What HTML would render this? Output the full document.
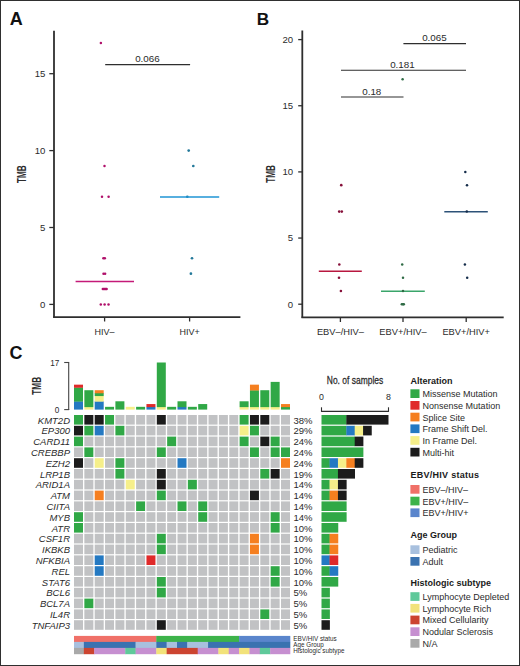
<!DOCTYPE html>
<html><head><meta charset="utf-8"><style>
html,body{margin:0;padding:0;background:#fff;}
#f{position:relative;width:520px;height:666px;overflow:hidden;background:#fff;}
svg{position:absolute;left:0;top:0;font-family:"Liberation Sans", sans-serif;}
#bd{position:absolute;left:0;top:0;width:518px;height:664px;border:1px solid #2f2f2f;}
</style></head><body><div id="f">
<svg width="520" height="666" viewBox="0 0 520 666">
<text x="9.80" y="25.00" font-size="18" text-anchor="start" font-weight="bold" font-style="normal" fill="#111">A</text>
<line x1="54.00" y1="30.80" x2="54.00" y2="317.60" stroke="#2e2e2e" stroke-width="1.8"/>
<line x1="53.10" y1="317.20" x2="240.40" y2="317.20" stroke="#2e2e2e" stroke-width="1.8"/>
<line x1="49.30" y1="304.40" x2="54.00" y2="304.40" stroke="#2e2e2e" stroke-width="1.3"/>
<text x="45.30" y="307.80" font-size="9.6" text-anchor="end" font-weight="normal" font-style="normal" fill="#2b2b2b">0</text>
<line x1="49.30" y1="227.50" x2="54.00" y2="227.50" stroke="#2e2e2e" stroke-width="1.3"/>
<text x="45.30" y="230.90" font-size="9.6" text-anchor="end" font-weight="normal" font-style="normal" fill="#2b2b2b">5</text>
<line x1="49.30" y1="150.60" x2="54.00" y2="150.60" stroke="#2e2e2e" stroke-width="1.3"/>
<text x="45.30" y="154.00" font-size="9.6" text-anchor="end" font-weight="normal" font-style="normal" fill="#2b2b2b">10</text>
<line x1="49.30" y1="73.70" x2="54.00" y2="73.70" stroke="#2e2e2e" stroke-width="1.3"/>
<text x="45.30" y="77.10" font-size="9.6" text-anchor="end" font-weight="normal" font-style="normal" fill="#2b2b2b">15</text>
<line x1="104.60" y1="317.20" x2="104.60" y2="321.50" stroke="#2e2e2e" stroke-width="1.3"/>
<text x="104.60" y="334.80" font-size="9" text-anchor="middle" font-weight="normal" font-style="normal" fill="#2b2b2b">HIV–</text>
<line x1="189.60" y1="317.20" x2="189.60" y2="321.50" stroke="#2e2e2e" stroke-width="1.3"/>
<text x="189.60" y="334.80" font-size="9" text-anchor="middle" font-weight="normal" font-style="normal" fill="#2b2b2b">HIV+</text>
<text transform="translate(26,174.2) rotate(-90)" font-size="12.4" font-weight="bold" text-anchor="middle" fill="#2b2b2b" textLength="17.6" lengthAdjust="spacingAndGlyphs">TMB</text>
<line x1="105.20" y1="64.60" x2="190.10" y2="64.60" stroke="#2e2e2e" stroke-width="1.2"/>
<text x="147.40" y="61.80" font-size="9.8" text-anchor="middle" font-weight="normal" font-style="normal" fill="#2b2b2b">0.066</text>
<circle cx="100.90" cy="42.94" r="1.25" fill="#b0106a"/>
<circle cx="104.50" cy="165.98" r="1.25" fill="#b0106a"/>
<circle cx="102.00" cy="196.74" r="1.25" fill="#b0106a"/>
<circle cx="108.60" cy="196.74" r="1.25" fill="#b0106a"/>
<circle cx="103.40" cy="258.26" r="1.25" fill="#b0106a"/>
<circle cx="104.80" cy="258.26" r="1.25" fill="#b0106a"/>
<circle cx="103.50" cy="273.64" r="1.25" fill="#b0106a"/>
<circle cx="105.10" cy="273.64" r="1.25" fill="#b0106a"/>
<circle cx="102.80" cy="289.02" r="1.25" fill="#b0106a"/>
<circle cx="103.80" cy="289.02" r="1.25" fill="#b0106a"/>
<circle cx="104.80" cy="289.02" r="1.25" fill="#b0106a"/>
<circle cx="105.80" cy="289.02" r="1.25" fill="#b0106a"/>
<circle cx="106.60" cy="289.02" r="1.25" fill="#b0106a"/>
<circle cx="100.80" cy="304.40" r="1.25" fill="#b0106a"/>
<circle cx="104.60" cy="304.40" r="1.25" fill="#b0106a"/>
<circle cx="108.50" cy="304.40" r="1.25" fill="#b0106a"/>
<line x1="75.60" y1="281.50" x2="134.00" y2="281.50" stroke="#c41a78" stroke-width="1.4"/>
<circle cx="188.70" cy="150.60" r="1.35" fill="#23799a"/>
<circle cx="193.30" cy="165.98" r="1.35" fill="#23799a"/>
<circle cx="187.30" cy="196.74" r="1.35" fill="#23799a"/>
<circle cx="192.00" cy="258.26" r="1.35" fill="#23799a"/>
<circle cx="190.90" cy="273.64" r="1.35" fill="#23799a"/>
<line x1="160.00" y1="197.00" x2="219.20" y2="197.00" stroke="#1f95d5" stroke-width="1.4"/>
<text x="256.80" y="24.50" font-size="17.2" text-anchor="start" font-weight="bold" font-style="normal" fill="#111">B</text>
<line x1="302.30" y1="30.60" x2="302.30" y2="317.70" stroke="#2e2e2e" stroke-width="1.8"/>
<line x1="301.40" y1="317.30" x2="503.70" y2="317.30" stroke="#2e2e2e" stroke-width="1.8"/>
<line x1="298.20" y1="304.20" x2="302.30" y2="304.20" stroke="#2e2e2e" stroke-width="1.3"/>
<text x="293.20" y="307.60" font-size="9.6" text-anchor="end" font-weight="normal" font-style="normal" fill="#2b2b2b">0</text>
<line x1="298.20" y1="238.05" x2="302.30" y2="238.05" stroke="#2e2e2e" stroke-width="1.3"/>
<text x="293.20" y="241.45" font-size="9.6" text-anchor="end" font-weight="normal" font-style="normal" fill="#2b2b2b">5</text>
<line x1="298.20" y1="171.90" x2="302.30" y2="171.90" stroke="#2e2e2e" stroke-width="1.3"/>
<text x="293.20" y="175.30" font-size="9.6" text-anchor="end" font-weight="normal" font-style="normal" fill="#2b2b2b">10</text>
<line x1="298.20" y1="105.75" x2="302.30" y2="105.75" stroke="#2e2e2e" stroke-width="1.3"/>
<text x="293.20" y="109.15" font-size="9.6" text-anchor="end" font-weight="normal" font-style="normal" fill="#2b2b2b">15</text>
<line x1="298.20" y1="39.60" x2="302.30" y2="39.60" stroke="#2e2e2e" stroke-width="1.3"/>
<text x="293.20" y="43.00" font-size="9.6" text-anchor="end" font-weight="normal" font-style="normal" fill="#2b2b2b">20</text>
<line x1="340.40" y1="317.30" x2="340.40" y2="322.00" stroke="#2e2e2e" stroke-width="1.3"/>
<text x="340.40" y="335.20" font-size="9.3" text-anchor="middle" font-weight="normal" font-style="normal" fill="#2b2b2b">EBV–/HIV–</text>
<line x1="403.00" y1="317.30" x2="403.00" y2="322.00" stroke="#2e2e2e" stroke-width="1.3"/>
<text x="403.00" y="335.20" font-size="9.3" text-anchor="middle" font-weight="normal" font-style="normal" fill="#2b2b2b">EBV+/HIV–</text>
<line x1="466.20" y1="317.30" x2="466.20" y2="322.00" stroke="#2e2e2e" stroke-width="1.3"/>
<text x="466.20" y="335.20" font-size="9.3" text-anchor="middle" font-weight="normal" font-style="normal" fill="#2b2b2b">EBV+/HIV+</text>
<text transform="translate(275,174) rotate(-90)" font-size="12.4" font-weight="bold" text-anchor="middle" fill="#2b2b2b" textLength="17.6" lengthAdjust="spacingAndGlyphs">TMB</text>
<line x1="341.00" y1="97.00" x2="403.50" y2="97.00" stroke="#2e2e2e" stroke-width="1.1"/>
<text x="371.80" y="94.70" font-size="9.8" text-anchor="middle" font-weight="normal" font-style="normal" fill="#2b2b2b">0.18</text>
<line x1="341.00" y1="70.20" x2="466.00" y2="70.20" stroke="#2e2e2e" stroke-width="1.1"/>
<text x="402.40" y="67.80" font-size="9.8" text-anchor="middle" font-weight="normal" font-style="normal" fill="#2b2b2b">0.181</text>
<line x1="403.40" y1="43.60" x2="466.00" y2="43.60" stroke="#2e2e2e" stroke-width="1.1"/>
<text x="434.40" y="41.00" font-size="9.8" text-anchor="middle" font-weight="normal" font-style="normal" fill="#2b2b2b">0.065</text>
<line x1="318.80" y1="271.30" x2="361.80" y2="271.30" stroke="#b8173f" stroke-width="1.4"/>
<circle cx="341.25" cy="185.13" r="1.3" fill="#86103a"/>
<circle cx="339.20" cy="211.59" r="1.3" fill="#86103a"/>
<circle cx="341.80" cy="211.59" r="1.3" fill="#86103a"/>
<circle cx="339.30" cy="264.51" r="1.3" fill="#86103a"/>
<circle cx="339.00" cy="277.74" r="1.3" fill="#86103a"/>
<circle cx="340.90" cy="290.97" r="1.3" fill="#86103a"/>
<line x1="381.00" y1="291.20" x2="424.80" y2="291.20" stroke="#3aa56a" stroke-width="1.4"/>
<circle cx="402.60" cy="79.29" r="1.25" fill="#2f6b45"/>
<circle cx="402.20" cy="264.51" r="1.25" fill="#2f6b45"/>
<circle cx="403.00" cy="277.74" r="1.25" fill="#2f6b45"/>
<circle cx="403.00" cy="290.97" r="1.25" fill="#2f6b45"/>
<circle cx="401.80" cy="304.20" r="1.25" fill="#2f6b45"/>
<circle cx="403.00" cy="304.20" r="1.25" fill="#2f6b45"/>
<circle cx="403.80" cy="304.20" r="1.25" fill="#2f6b45"/>
<line x1="444.30" y1="211.70" x2="487.80" y2="211.70" stroke="#2d5278" stroke-width="1.4"/>
<circle cx="465.30" cy="171.90" r="1.25" fill="#142c4a"/>
<circle cx="467.00" cy="185.13" r="1.25" fill="#142c4a"/>
<circle cx="466.80" cy="211.59" r="1.25" fill="#142c4a"/>
<circle cx="464.90" cy="264.51" r="1.25" fill="#142c4a"/>
<circle cx="467.20" cy="277.74" r="1.25" fill="#142c4a"/>
<text x="9.60" y="358.50" font-size="18" text-anchor="start" font-weight="bold" font-style="normal" fill="#111">C</text>
<line x1="68.70" y1="362.50" x2="68.70" y2="410.10" stroke="#444" stroke-width="1.1"/>
<line x1="64.20" y1="362.50" x2="69.20" y2="362.50" stroke="#444" stroke-width="1.1"/>
<line x1="64.20" y1="409.60" x2="69.20" y2="409.60" stroke="#444" stroke-width="1.1"/>
<text x="59.40" y="365.90" font-size="8.2" text-anchor="end" font-weight="normal" font-style="normal" fill="#2b2b2b">17</text>
<text x="59.40" y="412.50" font-size="8.2" text-anchor="end" font-weight="normal" font-style="normal" fill="#2b2b2b">0</text>
<text transform="translate(41,385.8) rotate(-90)" font-size="12.6" font-weight="bold" text-anchor="middle" fill="#2b2b2b" textLength="17.8" lengthAdjust="spacingAndGlyphs">TMB</text>
<rect x="74.00" y="401.29" width="9.00" height="8.31" fill="#2479c2"/>
<rect x="74.00" y="387.44" width="9.00" height="14.15" fill="#30a846"/>
<rect x="74.00" y="384.66" width="9.00" height="3.07" fill="#e02a2a"/>
<rect x="84.35" y="406.83" width="9.00" height="2.77" fill="#f6ef8a"/>
<rect x="84.35" y="390.21" width="9.00" height="16.92" fill="#30a846"/>
<rect x="94.70" y="401.29" width="9.00" height="8.31" fill="#2479c2"/>
<rect x="94.70" y="395.75" width="9.00" height="5.84" fill="#f6ef8a"/>
<rect x="94.70" y="392.98" width="9.00" height="3.07" fill="#30a846"/>
<rect x="94.70" y="390.21" width="9.00" height="3.07" fill="#f57f20"/>
<rect x="105.05" y="406.83" width="9.00" height="2.77" fill="#30a846"/>
<rect x="115.40" y="401.29" width="9.00" height="8.31" fill="#30a846"/>
<rect x="125.75" y="406.83" width="9.00" height="2.77" fill="#f6ef8a"/>
<rect x="136.10" y="406.83" width="9.00" height="2.77" fill="#30a846"/>
<rect x="146.45" y="406.83" width="9.00" height="2.77" fill="#2479c2"/>
<rect x="146.45" y="404.06" width="9.00" height="3.07" fill="#e02a2a"/>
<rect x="156.80" y="406.83" width="9.00" height="2.77" fill="#f6ef8a"/>
<rect x="156.80" y="362.50" width="9.00" height="44.63" fill="#30a846"/>
<rect x="167.15" y="406.83" width="9.00" height="2.77" fill="#30a846"/>
<rect x="177.50" y="406.83" width="9.00" height="2.77" fill="#2479c2"/>
<rect x="177.50" y="401.29" width="9.00" height="5.84" fill="#30a846"/>
<rect x="187.85" y="406.83" width="9.00" height="2.77" fill="#30a846"/>
<rect x="198.20" y="404.06" width="9.00" height="5.54" fill="#30a846"/>
<rect x="239.60" y="406.83" width="9.00" height="2.77" fill="#f6ef8a"/>
<rect x="239.60" y="401.29" width="9.00" height="5.84" fill="#30a846"/>
<rect x="249.95" y="406.83" width="9.00" height="2.77" fill="#f6ef8a"/>
<rect x="249.95" y="390.21" width="9.00" height="16.92" fill="#30a846"/>
<rect x="249.95" y="384.66" width="9.00" height="5.84" fill="#f57f20"/>
<rect x="260.30" y="406.83" width="9.00" height="2.77" fill="#f6ef8a"/>
<rect x="260.30" y="390.21" width="9.00" height="16.92" fill="#30a846"/>
<rect x="270.65" y="406.83" width="9.00" height="2.77" fill="#f6ef8a"/>
<rect x="270.65" y="381.89" width="9.00" height="25.24" fill="#30a846"/>
<rect x="281.00" y="406.83" width="9.00" height="2.77" fill="#30a846"/>
<rect x="281.00" y="404.06" width="9.00" height="3.07" fill="#f57f20"/>
<rect x="74.00" y="415.00" width="9.00" height="9.60" fill="#30a846"/>
<rect x="84.35" y="415.00" width="9.00" height="9.60" fill="#1c1c1c"/>
<rect x="94.70" y="415.00" width="9.00" height="9.60" fill="#1c1c1c"/>
<rect x="105.05" y="415.00" width="9.00" height="9.60" fill="#30a846"/>
<rect x="115.40" y="415.00" width="9.00" height="9.60" fill="#c1c2c4"/>
<rect x="125.75" y="415.00" width="9.00" height="9.60" fill="#c1c2c4"/>
<rect x="136.10" y="415.00" width="9.00" height="9.60" fill="#c1c2c4"/>
<rect x="146.45" y="415.00" width="9.00" height="9.60" fill="#c1c2c4"/>
<rect x="156.80" y="415.00" width="9.00" height="9.60" fill="#1c1c1c"/>
<rect x="167.15" y="415.00" width="9.00" height="9.60" fill="#c1c2c4"/>
<rect x="177.50" y="415.00" width="9.00" height="9.60" fill="#c1c2c4"/>
<rect x="187.85" y="415.00" width="9.00" height="9.60" fill="#c1c2c4"/>
<rect x="198.20" y="415.00" width="9.00" height="9.60" fill="#c1c2c4"/>
<rect x="208.55" y="415.00" width="9.00" height="9.60" fill="#c1c2c4"/>
<rect x="218.90" y="415.00" width="9.00" height="9.60" fill="#c1c2c4"/>
<rect x="229.25" y="415.00" width="9.00" height="9.60" fill="#c1c2c4"/>
<rect x="239.60" y="415.00" width="9.00" height="9.60" fill="#30a846"/>
<rect x="249.95" y="415.00" width="9.00" height="9.60" fill="#1c1c1c"/>
<rect x="260.30" y="415.00" width="9.00" height="9.60" fill="#1c1c1c"/>
<rect x="270.65" y="415.00" width="9.00" height="9.60" fill="#c1c2c4"/>
<rect x="281.00" y="415.00" width="9.00" height="9.60" fill="#c1c2c4"/>
<text x="70.00" y="423.60" font-size="9.5" text-anchor="end" font-weight="normal" font-style="italic" fill="#2b2b2b">KMT2D</text>
<text x="293.40" y="423.60" font-size="9.5" text-anchor="start" font-weight="normal" font-style="normal" fill="#2b2b2b">38%</text>
<rect x="321.50" y="415.00" width="25.12" height="9.60" fill="#30a846"/>
<rect x="346.32" y="415.00" width="42.17" height="9.60" fill="#1c1c1c"/>
<rect x="74.00" y="425.80" width="9.00" height="9.60" fill="#1c1c1c"/>
<rect x="84.35" y="425.80" width="9.00" height="9.60" fill="#30a846"/>
<rect x="94.70" y="425.80" width="9.00" height="9.60" fill="#2479c2"/>
<rect x="105.05" y="425.80" width="9.00" height="9.60" fill="#c1c2c4"/>
<rect x="115.40" y="425.80" width="9.00" height="9.60" fill="#30a846"/>
<rect x="125.75" y="425.80" width="9.00" height="9.60" fill="#c1c2c4"/>
<rect x="136.10" y="425.80" width="9.00" height="9.60" fill="#c1c2c4"/>
<rect x="146.45" y="425.80" width="9.00" height="9.60" fill="#c1c2c4"/>
<rect x="156.80" y="425.80" width="9.00" height="9.60" fill="#c1c2c4"/>
<rect x="167.15" y="425.80" width="9.00" height="9.60" fill="#c1c2c4"/>
<rect x="177.50" y="425.80" width="9.00" height="9.60" fill="#c1c2c4"/>
<rect x="187.85" y="425.80" width="9.00" height="9.60" fill="#c1c2c4"/>
<rect x="198.20" y="425.80" width="9.00" height="9.60" fill="#c1c2c4"/>
<rect x="208.55" y="425.80" width="9.00" height="9.60" fill="#c1c2c4"/>
<rect x="218.90" y="425.80" width="9.00" height="9.60" fill="#c1c2c4"/>
<rect x="229.25" y="425.80" width="9.00" height="9.60" fill="#c1c2c4"/>
<rect x="239.60" y="425.80" width="9.00" height="9.60" fill="#f6ef8a"/>
<rect x="249.95" y="425.80" width="9.00" height="9.60" fill="#30a846"/>
<rect x="260.30" y="425.80" width="9.00" height="9.60" fill="#c1c2c4"/>
<rect x="270.65" y="425.80" width="9.00" height="9.60" fill="#c1c2c4"/>
<rect x="281.00" y="425.80" width="9.00" height="9.60" fill="#c1c2c4"/>
<text x="70.00" y="434.40" font-size="9.5" text-anchor="end" font-weight="normal" font-style="italic" fill="#2b2b2b">EP300</text>
<text x="293.40" y="434.40" font-size="9.5" text-anchor="start" font-weight="normal" font-style="normal" fill="#2b2b2b">29%</text>
<rect x="321.50" y="425.80" width="25.12" height="9.60" fill="#30a846"/>
<rect x="346.32" y="425.80" width="8.68" height="9.60" fill="#2479c2"/>
<rect x="354.70" y="425.80" width="8.68" height="9.60" fill="#f6ef8a"/>
<rect x="363.07" y="425.80" width="8.68" height="9.60" fill="#1c1c1c"/>
<rect x="74.00" y="436.60" width="9.00" height="9.60" fill="#30a846"/>
<rect x="84.35" y="436.60" width="9.00" height="9.60" fill="#c1c2c4"/>
<rect x="94.70" y="436.60" width="9.00" height="9.60" fill="#c1c2c4"/>
<rect x="105.05" y="436.60" width="9.00" height="9.60" fill="#c1c2c4"/>
<rect x="115.40" y="436.60" width="9.00" height="9.60" fill="#c1c2c4"/>
<rect x="125.75" y="436.60" width="9.00" height="9.60" fill="#c1c2c4"/>
<rect x="136.10" y="436.60" width="9.00" height="9.60" fill="#c1c2c4"/>
<rect x="146.45" y="436.60" width="9.00" height="9.60" fill="#c1c2c4"/>
<rect x="156.80" y="436.60" width="9.00" height="9.60" fill="#c1c2c4"/>
<rect x="167.15" y="436.60" width="9.00" height="9.60" fill="#30a846"/>
<rect x="177.50" y="436.60" width="9.00" height="9.60" fill="#c1c2c4"/>
<rect x="187.85" y="436.60" width="9.00" height="9.60" fill="#c1c2c4"/>
<rect x="198.20" y="436.60" width="9.00" height="9.60" fill="#c1c2c4"/>
<rect x="208.55" y="436.60" width="9.00" height="9.60" fill="#c1c2c4"/>
<rect x="218.90" y="436.60" width="9.00" height="9.60" fill="#c1c2c4"/>
<rect x="229.25" y="436.60" width="9.00" height="9.60" fill="#c1c2c4"/>
<rect x="239.60" y="436.60" width="9.00" height="9.60" fill="#30a846"/>
<rect x="249.95" y="436.60" width="9.00" height="9.60" fill="#c1c2c4"/>
<rect x="260.30" y="436.60" width="9.00" height="9.60" fill="#1c1c1c"/>
<rect x="270.65" y="436.60" width="9.00" height="9.60" fill="#30a846"/>
<rect x="281.00" y="436.60" width="9.00" height="9.60" fill="#c1c2c4"/>
<text x="70.00" y="445.20" font-size="9.5" text-anchor="end" font-weight="normal" font-style="italic" fill="#2b2b2b">CARD11</text>
<text x="293.40" y="445.20" font-size="9.5" text-anchor="start" font-weight="normal" font-style="normal" fill="#2b2b2b">24%</text>
<rect x="321.50" y="436.60" width="33.50" height="9.60" fill="#30a846"/>
<rect x="354.70" y="436.60" width="8.68" height="9.60" fill="#1c1c1c"/>
<rect x="74.00" y="447.40" width="9.00" height="9.60" fill="#c1c2c4"/>
<rect x="84.35" y="447.40" width="9.00" height="9.60" fill="#30a846"/>
<rect x="94.70" y="447.40" width="9.00" height="9.60" fill="#c1c2c4"/>
<rect x="105.05" y="447.40" width="9.00" height="9.60" fill="#c1c2c4"/>
<rect x="115.40" y="447.40" width="9.00" height="9.60" fill="#c1c2c4"/>
<rect x="125.75" y="447.40" width="9.00" height="9.60" fill="#c1c2c4"/>
<rect x="136.10" y="447.40" width="9.00" height="9.60" fill="#c1c2c4"/>
<rect x="146.45" y="447.40" width="9.00" height="9.60" fill="#c1c2c4"/>
<rect x="156.80" y="447.40" width="9.00" height="9.60" fill="#30a846"/>
<rect x="167.15" y="447.40" width="9.00" height="9.60" fill="#c1c2c4"/>
<rect x="177.50" y="447.40" width="9.00" height="9.60" fill="#c1c2c4"/>
<rect x="187.85" y="447.40" width="9.00" height="9.60" fill="#c1c2c4"/>
<rect x="198.20" y="447.40" width="9.00" height="9.60" fill="#c1c2c4"/>
<rect x="208.55" y="447.40" width="9.00" height="9.60" fill="#c1c2c4"/>
<rect x="218.90" y="447.40" width="9.00" height="9.60" fill="#c1c2c4"/>
<rect x="229.25" y="447.40" width="9.00" height="9.60" fill="#c1c2c4"/>
<rect x="239.60" y="447.40" width="9.00" height="9.60" fill="#c1c2c4"/>
<rect x="249.95" y="447.40" width="9.00" height="9.60" fill="#30a846"/>
<rect x="260.30" y="447.40" width="9.00" height="9.60" fill="#c1c2c4"/>
<rect x="270.65" y="447.40" width="9.00" height="9.60" fill="#30a846"/>
<rect x="281.00" y="447.40" width="9.00" height="9.60" fill="#30a846"/>
<text x="70.00" y="456.00" font-size="9.5" text-anchor="end" font-weight="normal" font-style="italic" fill="#2b2b2b">CREBBP</text>
<text x="293.40" y="456.00" font-size="9.5" text-anchor="start" font-weight="normal" font-style="normal" fill="#2b2b2b">24%</text>
<rect x="321.50" y="447.40" width="41.88" height="9.60" fill="#30a846"/>
<rect x="74.00" y="458.20" width="9.00" height="9.60" fill="#1c1c1c"/>
<rect x="84.35" y="458.20" width="9.00" height="9.60" fill="#c1c2c4"/>
<rect x="94.70" y="458.20" width="9.00" height="9.60" fill="#f6ef8a"/>
<rect x="105.05" y="458.20" width="9.00" height="9.60" fill="#c1c2c4"/>
<rect x="115.40" y="458.20" width="9.00" height="9.60" fill="#30a846"/>
<rect x="125.75" y="458.20" width="9.00" height="9.60" fill="#c1c2c4"/>
<rect x="136.10" y="458.20" width="9.00" height="9.60" fill="#c1c2c4"/>
<rect x="146.45" y="458.20" width="9.00" height="9.60" fill="#c1c2c4"/>
<rect x="156.80" y="458.20" width="9.00" height="9.60" fill="#c1c2c4"/>
<rect x="167.15" y="458.20" width="9.00" height="9.60" fill="#c1c2c4"/>
<rect x="177.50" y="458.20" width="9.00" height="9.60" fill="#2479c2"/>
<rect x="187.85" y="458.20" width="9.00" height="9.60" fill="#c1c2c4"/>
<rect x="198.20" y="458.20" width="9.00" height="9.60" fill="#c1c2c4"/>
<rect x="208.55" y="458.20" width="9.00" height="9.60" fill="#c1c2c4"/>
<rect x="218.90" y="458.20" width="9.00" height="9.60" fill="#c1c2c4"/>
<rect x="229.25" y="458.20" width="9.00" height="9.60" fill="#c1c2c4"/>
<rect x="239.60" y="458.20" width="9.00" height="9.60" fill="#c1c2c4"/>
<rect x="249.95" y="458.20" width="9.00" height="9.60" fill="#c1c2c4"/>
<rect x="260.30" y="458.20" width="9.00" height="9.60" fill="#c1c2c4"/>
<rect x="270.65" y="458.20" width="9.00" height="9.60" fill="#c1c2c4"/>
<rect x="281.00" y="458.20" width="9.00" height="9.60" fill="#f57f20"/>
<text x="70.00" y="466.80" font-size="9.5" text-anchor="end" font-weight="normal" font-style="italic" fill="#2b2b2b">EZH2</text>
<text x="293.40" y="466.80" font-size="9.5" text-anchor="start" font-weight="normal" font-style="normal" fill="#2b2b2b">24%</text>
<rect x="321.50" y="458.20" width="8.38" height="9.60" fill="#30a846"/>
<rect x="329.57" y="458.20" width="8.68" height="9.60" fill="#2479c2"/>
<rect x="337.95" y="458.20" width="8.68" height="9.60" fill="#f6ef8a"/>
<rect x="346.32" y="458.20" width="8.68" height="9.60" fill="#f57f20"/>
<rect x="354.70" y="458.20" width="8.68" height="9.60" fill="#1c1c1c"/>
<rect x="74.00" y="469.00" width="9.00" height="9.60" fill="#c1c2c4"/>
<rect x="84.35" y="469.00" width="9.00" height="9.60" fill="#c1c2c4"/>
<rect x="94.70" y="469.00" width="9.00" height="9.60" fill="#c1c2c4"/>
<rect x="105.05" y="469.00" width="9.00" height="9.60" fill="#c1c2c4"/>
<rect x="115.40" y="469.00" width="9.00" height="9.60" fill="#30a846"/>
<rect x="125.75" y="469.00" width="9.00" height="9.60" fill="#c1c2c4"/>
<rect x="136.10" y="469.00" width="9.00" height="9.60" fill="#c1c2c4"/>
<rect x="146.45" y="469.00" width="9.00" height="9.60" fill="#c1c2c4"/>
<rect x="156.80" y="469.00" width="9.00" height="9.60" fill="#1c1c1c"/>
<rect x="167.15" y="469.00" width="9.00" height="9.60" fill="#c1c2c4"/>
<rect x="177.50" y="469.00" width="9.00" height="9.60" fill="#c1c2c4"/>
<rect x="187.85" y="469.00" width="9.00" height="9.60" fill="#c1c2c4"/>
<rect x="198.20" y="469.00" width="9.00" height="9.60" fill="#c1c2c4"/>
<rect x="208.55" y="469.00" width="9.00" height="9.60" fill="#c1c2c4"/>
<rect x="218.90" y="469.00" width="9.00" height="9.60" fill="#c1c2c4"/>
<rect x="229.25" y="469.00" width="9.00" height="9.60" fill="#c1c2c4"/>
<rect x="239.60" y="469.00" width="9.00" height="9.60" fill="#c1c2c4"/>
<rect x="249.95" y="469.00" width="9.00" height="9.60" fill="#c1c2c4"/>
<rect x="260.30" y="469.00" width="9.00" height="9.60" fill="#30a846"/>
<rect x="270.65" y="469.00" width="9.00" height="9.60" fill="#1c1c1c"/>
<rect x="281.00" y="469.00" width="9.00" height="9.60" fill="#c1c2c4"/>
<text x="70.00" y="477.60" font-size="9.5" text-anchor="end" font-weight="normal" font-style="italic" fill="#2b2b2b">LRP1B</text>
<text x="293.40" y="477.60" font-size="9.5" text-anchor="start" font-weight="normal" font-style="normal" fill="#2b2b2b">19%</text>
<rect x="321.50" y="469.00" width="16.75" height="9.60" fill="#30a846"/>
<rect x="337.95" y="469.00" width="17.05" height="9.60" fill="#1c1c1c"/>
<rect x="74.00" y="479.80" width="9.00" height="9.60" fill="#c1c2c4"/>
<rect x="84.35" y="479.80" width="9.00" height="9.60" fill="#c1c2c4"/>
<rect x="94.70" y="479.80" width="9.00" height="9.60" fill="#c1c2c4"/>
<rect x="105.05" y="479.80" width="9.00" height="9.60" fill="#c1c2c4"/>
<rect x="115.40" y="479.80" width="9.00" height="9.60" fill="#c1c2c4"/>
<rect x="125.75" y="479.80" width="9.00" height="9.60" fill="#f6ef8a"/>
<rect x="136.10" y="479.80" width="9.00" height="9.60" fill="#c1c2c4"/>
<rect x="146.45" y="479.80" width="9.00" height="9.60" fill="#c1c2c4"/>
<rect x="156.80" y="479.80" width="9.00" height="9.60" fill="#1c1c1c"/>
<rect x="167.15" y="479.80" width="9.00" height="9.60" fill="#c1c2c4"/>
<rect x="177.50" y="479.80" width="9.00" height="9.60" fill="#c1c2c4"/>
<rect x="187.85" y="479.80" width="9.00" height="9.60" fill="#30a846"/>
<rect x="198.20" y="479.80" width="9.00" height="9.60" fill="#c1c2c4"/>
<rect x="208.55" y="479.80" width="9.00" height="9.60" fill="#c1c2c4"/>
<rect x="218.90" y="479.80" width="9.00" height="9.60" fill="#c1c2c4"/>
<rect x="229.25" y="479.80" width="9.00" height="9.60" fill="#c1c2c4"/>
<rect x="239.60" y="479.80" width="9.00" height="9.60" fill="#c1c2c4"/>
<rect x="249.95" y="479.80" width="9.00" height="9.60" fill="#c1c2c4"/>
<rect x="260.30" y="479.80" width="9.00" height="9.60" fill="#c1c2c4"/>
<rect x="270.65" y="479.80" width="9.00" height="9.60" fill="#c1c2c4"/>
<rect x="281.00" y="479.80" width="9.00" height="9.60" fill="#c1c2c4"/>
<text x="70.00" y="488.40" font-size="9.5" text-anchor="end" font-weight="normal" font-style="italic" fill="#2b2b2b">ARID1A</text>
<text x="293.40" y="488.40" font-size="9.5" text-anchor="start" font-weight="normal" font-style="normal" fill="#2b2b2b">14%</text>
<rect x="321.50" y="479.80" width="8.38" height="9.60" fill="#30a846"/>
<rect x="329.57" y="479.80" width="8.68" height="9.60" fill="#f6ef8a"/>
<rect x="337.95" y="479.80" width="8.68" height="9.60" fill="#1c1c1c"/>
<rect x="74.00" y="490.60" width="9.00" height="9.60" fill="#c1c2c4"/>
<rect x="84.35" y="490.60" width="9.00" height="9.60" fill="#c1c2c4"/>
<rect x="94.70" y="490.60" width="9.00" height="9.60" fill="#f57f20"/>
<rect x="105.05" y="490.60" width="9.00" height="9.60" fill="#c1c2c4"/>
<rect x="115.40" y="490.60" width="9.00" height="9.60" fill="#c1c2c4"/>
<rect x="125.75" y="490.60" width="9.00" height="9.60" fill="#c1c2c4"/>
<rect x="136.10" y="490.60" width="9.00" height="9.60" fill="#c1c2c4"/>
<rect x="146.45" y="490.60" width="9.00" height="9.60" fill="#c1c2c4"/>
<rect x="156.80" y="490.60" width="9.00" height="9.60" fill="#30a846"/>
<rect x="167.15" y="490.60" width="9.00" height="9.60" fill="#c1c2c4"/>
<rect x="177.50" y="490.60" width="9.00" height="9.60" fill="#c1c2c4"/>
<rect x="187.85" y="490.60" width="9.00" height="9.60" fill="#c1c2c4"/>
<rect x="198.20" y="490.60" width="9.00" height="9.60" fill="#c1c2c4"/>
<rect x="208.55" y="490.60" width="9.00" height="9.60" fill="#c1c2c4"/>
<rect x="218.90" y="490.60" width="9.00" height="9.60" fill="#c1c2c4"/>
<rect x="229.25" y="490.60" width="9.00" height="9.60" fill="#c1c2c4"/>
<rect x="239.60" y="490.60" width="9.00" height="9.60" fill="#c1c2c4"/>
<rect x="249.95" y="490.60" width="9.00" height="9.60" fill="#1c1c1c"/>
<rect x="260.30" y="490.60" width="9.00" height="9.60" fill="#c1c2c4"/>
<rect x="270.65" y="490.60" width="9.00" height="9.60" fill="#c1c2c4"/>
<rect x="281.00" y="490.60" width="9.00" height="9.60" fill="#c1c2c4"/>
<text x="70.00" y="499.20" font-size="9.5" text-anchor="end" font-weight="normal" font-style="italic" fill="#2b2b2b">ATM</text>
<text x="293.40" y="499.20" font-size="9.5" text-anchor="start" font-weight="normal" font-style="normal" fill="#2b2b2b">14%</text>
<rect x="321.50" y="490.60" width="8.38" height="9.60" fill="#30a846"/>
<rect x="329.57" y="490.60" width="8.68" height="9.60" fill="#f57f20"/>
<rect x="337.95" y="490.60" width="8.68" height="9.60" fill="#1c1c1c"/>
<rect x="74.00" y="501.40" width="9.00" height="9.60" fill="#c1c2c4"/>
<rect x="84.35" y="501.40" width="9.00" height="9.60" fill="#c1c2c4"/>
<rect x="94.70" y="501.40" width="9.00" height="9.60" fill="#c1c2c4"/>
<rect x="105.05" y="501.40" width="9.00" height="9.60" fill="#c1c2c4"/>
<rect x="115.40" y="501.40" width="9.00" height="9.60" fill="#c1c2c4"/>
<rect x="125.75" y="501.40" width="9.00" height="9.60" fill="#c1c2c4"/>
<rect x="136.10" y="501.40" width="9.00" height="9.60" fill="#30a846"/>
<rect x="146.45" y="501.40" width="9.00" height="9.60" fill="#c1c2c4"/>
<rect x="156.80" y="501.40" width="9.00" height="9.60" fill="#c1c2c4"/>
<rect x="167.15" y="501.40" width="9.00" height="9.60" fill="#c1c2c4"/>
<rect x="177.50" y="501.40" width="9.00" height="9.60" fill="#30a846"/>
<rect x="187.85" y="501.40" width="9.00" height="9.60" fill="#c1c2c4"/>
<rect x="198.20" y="501.40" width="9.00" height="9.60" fill="#30a846"/>
<rect x="208.55" y="501.40" width="9.00" height="9.60" fill="#c1c2c4"/>
<rect x="218.90" y="501.40" width="9.00" height="9.60" fill="#c1c2c4"/>
<rect x="229.25" y="501.40" width="9.00" height="9.60" fill="#c1c2c4"/>
<rect x="239.60" y="501.40" width="9.00" height="9.60" fill="#c1c2c4"/>
<rect x="249.95" y="501.40" width="9.00" height="9.60" fill="#c1c2c4"/>
<rect x="260.30" y="501.40" width="9.00" height="9.60" fill="#c1c2c4"/>
<rect x="270.65" y="501.40" width="9.00" height="9.60" fill="#c1c2c4"/>
<rect x="281.00" y="501.40" width="9.00" height="9.60" fill="#c1c2c4"/>
<text x="70.00" y="510.00" font-size="9.5" text-anchor="end" font-weight="normal" font-style="italic" fill="#2b2b2b">CIITA</text>
<text x="293.40" y="510.00" font-size="9.5" text-anchor="start" font-weight="normal" font-style="normal" fill="#2b2b2b">14%</text>
<rect x="321.50" y="501.40" width="25.12" height="9.60" fill="#30a846"/>
<rect x="74.00" y="512.20" width="9.00" height="9.60" fill="#30a846"/>
<rect x="84.35" y="512.20" width="9.00" height="9.60" fill="#c1c2c4"/>
<rect x="94.70" y="512.20" width="9.00" height="9.60" fill="#c1c2c4"/>
<rect x="105.05" y="512.20" width="9.00" height="9.60" fill="#c1c2c4"/>
<rect x="115.40" y="512.20" width="9.00" height="9.60" fill="#c1c2c4"/>
<rect x="125.75" y="512.20" width="9.00" height="9.60" fill="#c1c2c4"/>
<rect x="136.10" y="512.20" width="9.00" height="9.60" fill="#c1c2c4"/>
<rect x="146.45" y="512.20" width="9.00" height="9.60" fill="#c1c2c4"/>
<rect x="156.80" y="512.20" width="9.00" height="9.60" fill="#c1c2c4"/>
<rect x="167.15" y="512.20" width="9.00" height="9.60" fill="#c1c2c4"/>
<rect x="177.50" y="512.20" width="9.00" height="9.60" fill="#c1c2c4"/>
<rect x="187.85" y="512.20" width="9.00" height="9.60" fill="#c1c2c4"/>
<rect x="198.20" y="512.20" width="9.00" height="9.60" fill="#30a846"/>
<rect x="208.55" y="512.20" width="9.00" height="9.60" fill="#c1c2c4"/>
<rect x="218.90" y="512.20" width="9.00" height="9.60" fill="#c1c2c4"/>
<rect x="229.25" y="512.20" width="9.00" height="9.60" fill="#c1c2c4"/>
<rect x="239.60" y="512.20" width="9.00" height="9.60" fill="#c1c2c4"/>
<rect x="249.95" y="512.20" width="9.00" height="9.60" fill="#c1c2c4"/>
<rect x="260.30" y="512.20" width="9.00" height="9.60" fill="#c1c2c4"/>
<rect x="270.65" y="512.20" width="9.00" height="9.60" fill="#30a846"/>
<rect x="281.00" y="512.20" width="9.00" height="9.60" fill="#c1c2c4"/>
<text x="70.00" y="520.80" font-size="9.5" text-anchor="end" font-weight="normal" font-style="italic" fill="#2b2b2b">MYB</text>
<text x="293.40" y="520.80" font-size="9.5" text-anchor="start" font-weight="normal" font-style="normal" fill="#2b2b2b">14%</text>
<rect x="321.50" y="512.20" width="25.12" height="9.60" fill="#30a846"/>
<rect x="74.00" y="523.00" width="9.00" height="9.60" fill="#30a846"/>
<rect x="84.35" y="523.00" width="9.00" height="9.60" fill="#c1c2c4"/>
<rect x="94.70" y="523.00" width="9.00" height="9.60" fill="#c1c2c4"/>
<rect x="105.05" y="523.00" width="9.00" height="9.60" fill="#c1c2c4"/>
<rect x="115.40" y="523.00" width="9.00" height="9.60" fill="#c1c2c4"/>
<rect x="125.75" y="523.00" width="9.00" height="9.60" fill="#c1c2c4"/>
<rect x="136.10" y="523.00" width="9.00" height="9.60" fill="#c1c2c4"/>
<rect x="146.45" y="523.00" width="9.00" height="9.60" fill="#c1c2c4"/>
<rect x="156.80" y="523.00" width="9.00" height="9.60" fill="#c1c2c4"/>
<rect x="167.15" y="523.00" width="9.00" height="9.60" fill="#c1c2c4"/>
<rect x="177.50" y="523.00" width="9.00" height="9.60" fill="#c1c2c4"/>
<rect x="187.85" y="523.00" width="9.00" height="9.60" fill="#c1c2c4"/>
<rect x="198.20" y="523.00" width="9.00" height="9.60" fill="#c1c2c4"/>
<rect x="208.55" y="523.00" width="9.00" height="9.60" fill="#c1c2c4"/>
<rect x="218.90" y="523.00" width="9.00" height="9.60" fill="#c1c2c4"/>
<rect x="229.25" y="523.00" width="9.00" height="9.60" fill="#c1c2c4"/>
<rect x="239.60" y="523.00" width="9.00" height="9.60" fill="#c1c2c4"/>
<rect x="249.95" y="523.00" width="9.00" height="9.60" fill="#c1c2c4"/>
<rect x="260.30" y="523.00" width="9.00" height="9.60" fill="#c1c2c4"/>
<rect x="270.65" y="523.00" width="9.00" height="9.60" fill="#30a846"/>
<rect x="281.00" y="523.00" width="9.00" height="9.60" fill="#c1c2c4"/>
<text x="70.00" y="531.60" font-size="9.5" text-anchor="end" font-weight="normal" font-style="italic" fill="#2b2b2b">ATR</text>
<text x="293.40" y="531.60" font-size="9.5" text-anchor="start" font-weight="normal" font-style="normal" fill="#2b2b2b">10%</text>
<rect x="321.50" y="523.00" width="16.75" height="9.60" fill="#30a846"/>
<rect x="74.00" y="533.80" width="9.00" height="9.60" fill="#c1c2c4"/>
<rect x="84.35" y="533.80" width="9.00" height="9.60" fill="#c1c2c4"/>
<rect x="94.70" y="533.80" width="9.00" height="9.60" fill="#c1c2c4"/>
<rect x="105.05" y="533.80" width="9.00" height="9.60" fill="#c1c2c4"/>
<rect x="115.40" y="533.80" width="9.00" height="9.60" fill="#c1c2c4"/>
<rect x="125.75" y="533.80" width="9.00" height="9.60" fill="#c1c2c4"/>
<rect x="136.10" y="533.80" width="9.00" height="9.60" fill="#c1c2c4"/>
<rect x="146.45" y="533.80" width="9.00" height="9.60" fill="#c1c2c4"/>
<rect x="156.80" y="533.80" width="9.00" height="9.60" fill="#30a846"/>
<rect x="167.15" y="533.80" width="9.00" height="9.60" fill="#c1c2c4"/>
<rect x="177.50" y="533.80" width="9.00" height="9.60" fill="#c1c2c4"/>
<rect x="187.85" y="533.80" width="9.00" height="9.60" fill="#c1c2c4"/>
<rect x="198.20" y="533.80" width="9.00" height="9.60" fill="#c1c2c4"/>
<rect x="208.55" y="533.80" width="9.00" height="9.60" fill="#c1c2c4"/>
<rect x="218.90" y="533.80" width="9.00" height="9.60" fill="#c1c2c4"/>
<rect x="229.25" y="533.80" width="9.00" height="9.60" fill="#c1c2c4"/>
<rect x="239.60" y="533.80" width="9.00" height="9.60" fill="#c1c2c4"/>
<rect x="249.95" y="533.80" width="9.00" height="9.60" fill="#f57f20"/>
<rect x="260.30" y="533.80" width="9.00" height="9.60" fill="#c1c2c4"/>
<rect x="270.65" y="533.80" width="9.00" height="9.60" fill="#c1c2c4"/>
<rect x="281.00" y="533.80" width="9.00" height="9.60" fill="#c1c2c4"/>
<text x="70.00" y="542.40" font-size="9.5" text-anchor="end" font-weight="normal" font-style="italic" fill="#2b2b2b">CSF1R</text>
<text x="293.40" y="542.40" font-size="9.5" text-anchor="start" font-weight="normal" font-style="normal" fill="#2b2b2b">10%</text>
<rect x="321.50" y="533.80" width="8.38" height="9.60" fill="#30a846"/>
<rect x="329.57" y="533.80" width="8.68" height="9.60" fill="#f57f20"/>
<rect x="74.00" y="544.60" width="9.00" height="9.60" fill="#c1c2c4"/>
<rect x="84.35" y="544.60" width="9.00" height="9.60" fill="#c1c2c4"/>
<rect x="94.70" y="544.60" width="9.00" height="9.60" fill="#c1c2c4"/>
<rect x="105.05" y="544.60" width="9.00" height="9.60" fill="#c1c2c4"/>
<rect x="115.40" y="544.60" width="9.00" height="9.60" fill="#c1c2c4"/>
<rect x="125.75" y="544.60" width="9.00" height="9.60" fill="#c1c2c4"/>
<rect x="136.10" y="544.60" width="9.00" height="9.60" fill="#c1c2c4"/>
<rect x="146.45" y="544.60" width="9.00" height="9.60" fill="#c1c2c4"/>
<rect x="156.80" y="544.60" width="9.00" height="9.60" fill="#30a846"/>
<rect x="167.15" y="544.60" width="9.00" height="9.60" fill="#c1c2c4"/>
<rect x="177.50" y="544.60" width="9.00" height="9.60" fill="#c1c2c4"/>
<rect x="187.85" y="544.60" width="9.00" height="9.60" fill="#c1c2c4"/>
<rect x="198.20" y="544.60" width="9.00" height="9.60" fill="#c1c2c4"/>
<rect x="208.55" y="544.60" width="9.00" height="9.60" fill="#c1c2c4"/>
<rect x="218.90" y="544.60" width="9.00" height="9.60" fill="#c1c2c4"/>
<rect x="229.25" y="544.60" width="9.00" height="9.60" fill="#c1c2c4"/>
<rect x="239.60" y="544.60" width="9.00" height="9.60" fill="#c1c2c4"/>
<rect x="249.95" y="544.60" width="9.00" height="9.60" fill="#f57f20"/>
<rect x="260.30" y="544.60" width="9.00" height="9.60" fill="#c1c2c4"/>
<rect x="270.65" y="544.60" width="9.00" height="9.60" fill="#c1c2c4"/>
<rect x="281.00" y="544.60" width="9.00" height="9.60" fill="#c1c2c4"/>
<text x="70.00" y="553.20" font-size="9.5" text-anchor="end" font-weight="normal" font-style="italic" fill="#2b2b2b">IKBKB</text>
<text x="293.40" y="553.20" font-size="9.5" text-anchor="start" font-weight="normal" font-style="normal" fill="#2b2b2b">10%</text>
<rect x="321.50" y="544.60" width="8.38" height="9.60" fill="#30a846"/>
<rect x="329.57" y="544.60" width="8.68" height="9.60" fill="#f57f20"/>
<rect x="74.00" y="555.40" width="9.00" height="9.60" fill="#c1c2c4"/>
<rect x="84.35" y="555.40" width="9.00" height="9.60" fill="#c1c2c4"/>
<rect x="94.70" y="555.40" width="9.00" height="9.60" fill="#2479c2"/>
<rect x="105.05" y="555.40" width="9.00" height="9.60" fill="#c1c2c4"/>
<rect x="115.40" y="555.40" width="9.00" height="9.60" fill="#c1c2c4"/>
<rect x="125.75" y="555.40" width="9.00" height="9.60" fill="#c1c2c4"/>
<rect x="136.10" y="555.40" width="9.00" height="9.60" fill="#c1c2c4"/>
<rect x="146.45" y="555.40" width="9.00" height="9.60" fill="#e02a2a"/>
<rect x="156.80" y="555.40" width="9.00" height="9.60" fill="#c1c2c4"/>
<rect x="167.15" y="555.40" width="9.00" height="9.60" fill="#c1c2c4"/>
<rect x="177.50" y="555.40" width="9.00" height="9.60" fill="#c1c2c4"/>
<rect x="187.85" y="555.40" width="9.00" height="9.60" fill="#c1c2c4"/>
<rect x="198.20" y="555.40" width="9.00" height="9.60" fill="#c1c2c4"/>
<rect x="208.55" y="555.40" width="9.00" height="9.60" fill="#c1c2c4"/>
<rect x="218.90" y="555.40" width="9.00" height="9.60" fill="#c1c2c4"/>
<rect x="229.25" y="555.40" width="9.00" height="9.60" fill="#c1c2c4"/>
<rect x="239.60" y="555.40" width="9.00" height="9.60" fill="#c1c2c4"/>
<rect x="249.95" y="555.40" width="9.00" height="9.60" fill="#c1c2c4"/>
<rect x="260.30" y="555.40" width="9.00" height="9.60" fill="#c1c2c4"/>
<rect x="270.65" y="555.40" width="9.00" height="9.60" fill="#c1c2c4"/>
<rect x="281.00" y="555.40" width="9.00" height="9.60" fill="#c1c2c4"/>
<text x="70.00" y="564.00" font-size="9.5" text-anchor="end" font-weight="normal" font-style="italic" fill="#2b2b2b">NFKBIA</text>
<text x="293.40" y="564.00" font-size="9.5" text-anchor="start" font-weight="normal" font-style="normal" fill="#2b2b2b">10%</text>
<rect x="321.50" y="555.40" width="8.38" height="9.60" fill="#2479c2"/>
<rect x="329.57" y="555.40" width="8.68" height="9.60" fill="#e02a2a"/>
<rect x="74.00" y="566.20" width="9.00" height="9.60" fill="#c1c2c4"/>
<rect x="84.35" y="566.20" width="9.00" height="9.60" fill="#c1c2c4"/>
<rect x="94.70" y="566.20" width="9.00" height="9.60" fill="#2479c2"/>
<rect x="105.05" y="566.20" width="9.00" height="9.60" fill="#c1c2c4"/>
<rect x="115.40" y="566.20" width="9.00" height="9.60" fill="#c1c2c4"/>
<rect x="125.75" y="566.20" width="9.00" height="9.60" fill="#c1c2c4"/>
<rect x="136.10" y="566.20" width="9.00" height="9.60" fill="#c1c2c4"/>
<rect x="146.45" y="566.20" width="9.00" height="9.60" fill="#c1c2c4"/>
<rect x="156.80" y="566.20" width="9.00" height="9.60" fill="#c1c2c4"/>
<rect x="167.15" y="566.20" width="9.00" height="9.60" fill="#c1c2c4"/>
<rect x="177.50" y="566.20" width="9.00" height="9.60" fill="#c1c2c4"/>
<rect x="187.85" y="566.20" width="9.00" height="9.60" fill="#c1c2c4"/>
<rect x="198.20" y="566.20" width="9.00" height="9.60" fill="#c1c2c4"/>
<rect x="208.55" y="566.20" width="9.00" height="9.60" fill="#c1c2c4"/>
<rect x="218.90" y="566.20" width="9.00" height="9.60" fill="#c1c2c4"/>
<rect x="229.25" y="566.20" width="9.00" height="9.60" fill="#c1c2c4"/>
<rect x="239.60" y="566.20" width="9.00" height="9.60" fill="#c1c2c4"/>
<rect x="249.95" y="566.20" width="9.00" height="9.60" fill="#c1c2c4"/>
<rect x="260.30" y="566.20" width="9.00" height="9.60" fill="#c1c2c4"/>
<rect x="270.65" y="566.20" width="9.00" height="9.60" fill="#30a846"/>
<rect x="281.00" y="566.20" width="9.00" height="9.60" fill="#c1c2c4"/>
<text x="70.00" y="574.80" font-size="9.5" text-anchor="end" font-weight="normal" font-style="italic" fill="#2b2b2b">REL</text>
<text x="293.40" y="574.80" font-size="9.5" text-anchor="start" font-weight="normal" font-style="normal" fill="#2b2b2b">10%</text>
<rect x="321.50" y="566.20" width="8.38" height="9.60" fill="#30a846"/>
<rect x="329.57" y="566.20" width="8.68" height="9.60" fill="#2479c2"/>
<rect x="74.00" y="577.00" width="9.00" height="9.60" fill="#c1c2c4"/>
<rect x="84.35" y="577.00" width="9.00" height="9.60" fill="#c1c2c4"/>
<rect x="94.70" y="577.00" width="9.00" height="9.60" fill="#c1c2c4"/>
<rect x="105.05" y="577.00" width="9.00" height="9.60" fill="#c1c2c4"/>
<rect x="115.40" y="577.00" width="9.00" height="9.60" fill="#c1c2c4"/>
<rect x="125.75" y="577.00" width="9.00" height="9.60" fill="#c1c2c4"/>
<rect x="136.10" y="577.00" width="9.00" height="9.60" fill="#c1c2c4"/>
<rect x="146.45" y="577.00" width="9.00" height="9.60" fill="#c1c2c4"/>
<rect x="156.80" y="577.00" width="9.00" height="9.60" fill="#30a846"/>
<rect x="167.15" y="577.00" width="9.00" height="9.60" fill="#c1c2c4"/>
<rect x="177.50" y="577.00" width="9.00" height="9.60" fill="#c1c2c4"/>
<rect x="187.85" y="577.00" width="9.00" height="9.60" fill="#c1c2c4"/>
<rect x="198.20" y="577.00" width="9.00" height="9.60" fill="#c1c2c4"/>
<rect x="208.55" y="577.00" width="9.00" height="9.60" fill="#c1c2c4"/>
<rect x="218.90" y="577.00" width="9.00" height="9.60" fill="#c1c2c4"/>
<rect x="229.25" y="577.00" width="9.00" height="9.60" fill="#c1c2c4"/>
<rect x="239.60" y="577.00" width="9.00" height="9.60" fill="#c1c2c4"/>
<rect x="249.95" y="577.00" width="9.00" height="9.60" fill="#c1c2c4"/>
<rect x="260.30" y="577.00" width="9.00" height="9.60" fill="#c1c2c4"/>
<rect x="270.65" y="577.00" width="9.00" height="9.60" fill="#30a846"/>
<rect x="281.00" y="577.00" width="9.00" height="9.60" fill="#c1c2c4"/>
<text x="70.00" y="585.60" font-size="9.5" text-anchor="end" font-weight="normal" font-style="italic" fill="#2b2b2b">STAT6</text>
<text x="293.40" y="585.60" font-size="9.5" text-anchor="start" font-weight="normal" font-style="normal" fill="#2b2b2b">10%</text>
<rect x="321.50" y="577.00" width="16.75" height="9.60" fill="#30a846"/>
<rect x="74.00" y="587.80" width="9.00" height="9.60" fill="#c1c2c4"/>
<rect x="84.35" y="587.80" width="9.00" height="9.60" fill="#c1c2c4"/>
<rect x="94.70" y="587.80" width="9.00" height="9.60" fill="#c1c2c4"/>
<rect x="105.05" y="587.80" width="9.00" height="9.60" fill="#c1c2c4"/>
<rect x="115.40" y="587.80" width="9.00" height="9.60" fill="#c1c2c4"/>
<rect x="125.75" y="587.80" width="9.00" height="9.60" fill="#c1c2c4"/>
<rect x="136.10" y="587.80" width="9.00" height="9.60" fill="#c1c2c4"/>
<rect x="146.45" y="587.80" width="9.00" height="9.60" fill="#c1c2c4"/>
<rect x="156.80" y="587.80" width="9.00" height="9.60" fill="#30a846"/>
<rect x="167.15" y="587.80" width="9.00" height="9.60" fill="#c1c2c4"/>
<rect x="177.50" y="587.80" width="9.00" height="9.60" fill="#c1c2c4"/>
<rect x="187.85" y="587.80" width="9.00" height="9.60" fill="#c1c2c4"/>
<rect x="198.20" y="587.80" width="9.00" height="9.60" fill="#c1c2c4"/>
<rect x="208.55" y="587.80" width="9.00" height="9.60" fill="#c1c2c4"/>
<rect x="218.90" y="587.80" width="9.00" height="9.60" fill="#c1c2c4"/>
<rect x="229.25" y="587.80" width="9.00" height="9.60" fill="#c1c2c4"/>
<rect x="239.60" y="587.80" width="9.00" height="9.60" fill="#c1c2c4"/>
<rect x="249.95" y="587.80" width="9.00" height="9.60" fill="#c1c2c4"/>
<rect x="260.30" y="587.80" width="9.00" height="9.60" fill="#c1c2c4"/>
<rect x="270.65" y="587.80" width="9.00" height="9.60" fill="#c1c2c4"/>
<rect x="281.00" y="587.80" width="9.00" height="9.60" fill="#c1c2c4"/>
<text x="70.00" y="596.40" font-size="9.5" text-anchor="end" font-weight="normal" font-style="italic" fill="#2b2b2b">BCL6</text>
<text x="293.40" y="596.40" font-size="9.5" text-anchor="start" font-weight="normal" font-style="normal" fill="#2b2b2b">5%</text>
<rect x="321.50" y="587.80" width="8.38" height="9.60" fill="#30a846"/>
<rect x="74.00" y="598.60" width="9.00" height="9.60" fill="#c1c2c4"/>
<rect x="84.35" y="598.60" width="9.00" height="9.60" fill="#30a846"/>
<rect x="94.70" y="598.60" width="9.00" height="9.60" fill="#c1c2c4"/>
<rect x="105.05" y="598.60" width="9.00" height="9.60" fill="#c1c2c4"/>
<rect x="115.40" y="598.60" width="9.00" height="9.60" fill="#c1c2c4"/>
<rect x="125.75" y="598.60" width="9.00" height="9.60" fill="#c1c2c4"/>
<rect x="136.10" y="598.60" width="9.00" height="9.60" fill="#c1c2c4"/>
<rect x="146.45" y="598.60" width="9.00" height="9.60" fill="#c1c2c4"/>
<rect x="156.80" y="598.60" width="9.00" height="9.60" fill="#c1c2c4"/>
<rect x="167.15" y="598.60" width="9.00" height="9.60" fill="#c1c2c4"/>
<rect x="177.50" y="598.60" width="9.00" height="9.60" fill="#c1c2c4"/>
<rect x="187.85" y="598.60" width="9.00" height="9.60" fill="#c1c2c4"/>
<rect x="198.20" y="598.60" width="9.00" height="9.60" fill="#c1c2c4"/>
<rect x="208.55" y="598.60" width="9.00" height="9.60" fill="#c1c2c4"/>
<rect x="218.90" y="598.60" width="9.00" height="9.60" fill="#c1c2c4"/>
<rect x="229.25" y="598.60" width="9.00" height="9.60" fill="#c1c2c4"/>
<rect x="239.60" y="598.60" width="9.00" height="9.60" fill="#c1c2c4"/>
<rect x="249.95" y="598.60" width="9.00" height="9.60" fill="#c1c2c4"/>
<rect x="260.30" y="598.60" width="9.00" height="9.60" fill="#c1c2c4"/>
<rect x="270.65" y="598.60" width="9.00" height="9.60" fill="#c1c2c4"/>
<rect x="281.00" y="598.60" width="9.00" height="9.60" fill="#c1c2c4"/>
<text x="70.00" y="607.20" font-size="9.5" text-anchor="end" font-weight="normal" font-style="italic" fill="#2b2b2b">BCL7A</text>
<text x="293.40" y="607.20" font-size="9.5" text-anchor="start" font-weight="normal" font-style="normal" fill="#2b2b2b">5%</text>
<rect x="321.50" y="598.60" width="8.38" height="9.60" fill="#30a846"/>
<rect x="74.00" y="609.40" width="9.00" height="9.60" fill="#c1c2c4"/>
<rect x="84.35" y="609.40" width="9.00" height="9.60" fill="#c1c2c4"/>
<rect x="94.70" y="609.40" width="9.00" height="9.60" fill="#c1c2c4"/>
<rect x="105.05" y="609.40" width="9.00" height="9.60" fill="#c1c2c4"/>
<rect x="115.40" y="609.40" width="9.00" height="9.60" fill="#c1c2c4"/>
<rect x="125.75" y="609.40" width="9.00" height="9.60" fill="#c1c2c4"/>
<rect x="136.10" y="609.40" width="9.00" height="9.60" fill="#c1c2c4"/>
<rect x="146.45" y="609.40" width="9.00" height="9.60" fill="#c1c2c4"/>
<rect x="156.80" y="609.40" width="9.00" height="9.60" fill="#c1c2c4"/>
<rect x="167.15" y="609.40" width="9.00" height="9.60" fill="#c1c2c4"/>
<rect x="177.50" y="609.40" width="9.00" height="9.60" fill="#c1c2c4"/>
<rect x="187.85" y="609.40" width="9.00" height="9.60" fill="#c1c2c4"/>
<rect x="198.20" y="609.40" width="9.00" height="9.60" fill="#c1c2c4"/>
<rect x="208.55" y="609.40" width="9.00" height="9.60" fill="#c1c2c4"/>
<rect x="218.90" y="609.40" width="9.00" height="9.60" fill="#c1c2c4"/>
<rect x="229.25" y="609.40" width="9.00" height="9.60" fill="#c1c2c4"/>
<rect x="239.60" y="609.40" width="9.00" height="9.60" fill="#c1c2c4"/>
<rect x="249.95" y="609.40" width="9.00" height="9.60" fill="#c1c2c4"/>
<rect x="260.30" y="609.40" width="9.00" height="9.60" fill="#30a846"/>
<rect x="270.65" y="609.40" width="9.00" height="9.60" fill="#c1c2c4"/>
<rect x="281.00" y="609.40" width="9.00" height="9.60" fill="#c1c2c4"/>
<text x="70.00" y="618.00" font-size="9.5" text-anchor="end" font-weight="normal" font-style="italic" fill="#2b2b2b">IL4R</text>
<text x="293.40" y="618.00" font-size="9.5" text-anchor="start" font-weight="normal" font-style="normal" fill="#2b2b2b">5%</text>
<rect x="321.50" y="609.40" width="8.38" height="9.60" fill="#30a846"/>
<rect x="74.00" y="620.20" width="9.00" height="9.60" fill="#c1c2c4"/>
<rect x="84.35" y="620.20" width="9.00" height="9.60" fill="#c1c2c4"/>
<rect x="94.70" y="620.20" width="9.00" height="9.60" fill="#c1c2c4"/>
<rect x="105.05" y="620.20" width="9.00" height="9.60" fill="#c1c2c4"/>
<rect x="115.40" y="620.20" width="9.00" height="9.60" fill="#c1c2c4"/>
<rect x="125.75" y="620.20" width="9.00" height="9.60" fill="#c1c2c4"/>
<rect x="136.10" y="620.20" width="9.00" height="9.60" fill="#c1c2c4"/>
<rect x="146.45" y="620.20" width="9.00" height="9.60" fill="#c1c2c4"/>
<rect x="156.80" y="620.20" width="9.00" height="9.60" fill="#1c1c1c"/>
<rect x="167.15" y="620.20" width="9.00" height="9.60" fill="#c1c2c4"/>
<rect x="177.50" y="620.20" width="9.00" height="9.60" fill="#c1c2c4"/>
<rect x="187.85" y="620.20" width="9.00" height="9.60" fill="#c1c2c4"/>
<rect x="198.20" y="620.20" width="9.00" height="9.60" fill="#c1c2c4"/>
<rect x="208.55" y="620.20" width="9.00" height="9.60" fill="#c1c2c4"/>
<rect x="218.90" y="620.20" width="9.00" height="9.60" fill="#c1c2c4"/>
<rect x="229.25" y="620.20" width="9.00" height="9.60" fill="#c1c2c4"/>
<rect x="239.60" y="620.20" width="9.00" height="9.60" fill="#c1c2c4"/>
<rect x="249.95" y="620.20" width="9.00" height="9.60" fill="#c1c2c4"/>
<rect x="260.30" y="620.20" width="9.00" height="9.60" fill="#c1c2c4"/>
<rect x="270.65" y="620.20" width="9.00" height="9.60" fill="#c1c2c4"/>
<rect x="281.00" y="620.20" width="9.00" height="9.60" fill="#c1c2c4"/>
<text x="70.00" y="628.80" font-size="9.5" text-anchor="end" font-weight="normal" font-style="italic" fill="#2b2b2b">TNFAIP3</text>
<text x="293.40" y="628.80" font-size="9.5" text-anchor="start" font-weight="normal" font-style="normal" fill="#2b2b2b">5%</text>
<rect x="321.50" y="620.20" width="8.38" height="9.60" fill="#1c1c1c"/>
<rect x="74.00" y="635.90" width="82.60" height="6.30" fill="#f07068"/>
<rect x="156.30" y="635.90" width="83.10" height="6.30" fill="#3db34a"/>
<rect x="239.10" y="635.90" width="51.20" height="6.30" fill="#5a85cc"/>
<rect x="74.00" y="641.90" width="10.15" height="6.30" fill="#a8c0de"/>
<rect x="83.85" y="641.90" width="52.05" height="6.30" fill="#3a72b0"/>
<rect x="135.60" y="641.90" width="21.00" height="6.30" fill="#a8c0de"/>
<rect x="156.30" y="641.90" width="10.65" height="6.30" fill="#3a72b0"/>
<rect x="166.65" y="641.90" width="10.65" height="6.30" fill="#a8c0de"/>
<rect x="177.00" y="641.90" width="10.65" height="6.30" fill="#3a72b0"/>
<rect x="187.35" y="641.90" width="21.00" height="6.30" fill="#a8c0de"/>
<rect x="208.05" y="641.90" width="82.25" height="6.30" fill="#3a72b0"/>
<rect x="74.00" y="647.90" width="10.15" height="6.30" fill="#a9a9a9"/>
<rect x="83.85" y="647.90" width="10.65" height="6.30" fill="#cc4430"/>
<rect x="94.20" y="647.90" width="31.35" height="6.30" fill="#c68fd0"/>
<rect x="125.25" y="647.90" width="10.65" height="6.30" fill="#5fc99a"/>
<rect x="135.60" y="647.90" width="21.00" height="6.30" fill="#c68fd0"/>
<rect x="156.30" y="647.90" width="10.65" height="6.30" fill="#f2e27a"/>
<rect x="166.65" y="647.90" width="31.35" height="6.30" fill="#cc4430"/>
<rect x="197.70" y="647.90" width="21.00" height="6.30" fill="#c68fd0"/>
<rect x="218.40" y="647.90" width="10.65" height="6.30" fill="#f2e27a"/>
<rect x="228.75" y="647.90" width="10.65" height="6.30" fill="#c68fd0"/>
<rect x="239.10" y="647.90" width="10.65" height="6.30" fill="#f2e27a"/>
<rect x="249.45" y="647.90" width="10.65" height="6.30" fill="#c68fd0"/>
<rect x="259.80" y="647.90" width="10.65" height="6.30" fill="#5fc99a"/>
<rect x="270.15" y="647.90" width="20.15" height="6.30" fill="#c68fd0"/>
<text x="293.30" y="640.60" font-size="6.3" text-anchor="start" font-weight="normal" font-style="normal" fill="#2b2b2b">EBV/HIV status</text>
<text x="293.30" y="646.60" font-size="6.3" text-anchor="start" font-weight="normal" font-style="normal" fill="#2b2b2b">Age Group</text>
<text x="293.30" y="653.00" font-size="6.3" text-anchor="start" font-weight="normal" font-style="normal" fill="#2b2b2b">Histologic subtype</text>
<text transform="translate(326.8,384) scale(0.8,1)" font-size="10.6" fill="#2b2b2b" stroke="#2b2b2b" stroke-width="0.25">No. of samples</text>
<text x="321.50" y="400.30" font-size="8.8" text-anchor="middle" font-weight="normal" font-style="normal" fill="#2b2b2b">0</text>
<text x="388.40" y="400.30" font-size="8.8" text-anchor="middle" font-weight="normal" font-style="normal" fill="#2b2b2b">8</text>
<line x1="321.50" y1="411.40" x2="388.50" y2="411.40" stroke="#2e2e2e" stroke-width="1.1"/>
<line x1="321.50" y1="407.30" x2="321.50" y2="411.90" stroke="#2e2e2e" stroke-width="1.1"/>
<line x1="388.50" y1="407.30" x2="388.50" y2="411.90" stroke="#2e2e2e" stroke-width="1.1"/>
<text x="410.40" y="383.50" font-size="9" text-anchor="start" font-weight="bold" font-style="normal" fill="#1a1a1a" letter-spacing="0">Alteration</text>
<rect x="410.40" y="389.30" width="9.10" height="8.70" fill="#30a846"/>
<text x="422.60" y="397.10" font-size="9" text-anchor="start" font-weight="normal" font-style="normal" fill="#2b2b2b">Missense Mutation</text>
<rect x="410.40" y="401.00" width="9.10" height="8.70" fill="#e02a2a"/>
<text x="422.60" y="408.80" font-size="9" text-anchor="start" font-weight="normal" font-style="normal" fill="#2b2b2b">Nonsense Mutation</text>
<rect x="410.40" y="412.70" width="9.10" height="8.70" fill="#f57f20"/>
<text x="422.60" y="420.50" font-size="9" text-anchor="start" font-weight="normal" font-style="normal" fill="#2b2b2b">Splice Site</text>
<rect x="410.40" y="424.40" width="9.10" height="8.70" fill="#2479c2"/>
<text x="422.60" y="432.20" font-size="9" text-anchor="start" font-weight="normal" font-style="normal" fill="#2b2b2b">Frame Shift Del.</text>
<rect x="410.40" y="436.10" width="9.10" height="8.70" fill="#f6ef8a"/>
<text x="422.60" y="443.90" font-size="9" text-anchor="start" font-weight="normal" font-style="normal" fill="#2b2b2b">In Frame Del.</text>
<rect x="410.40" y="447.80" width="9.10" height="8.70" fill="#1c1c1c"/>
<text x="422.60" y="455.60" font-size="9" text-anchor="start" font-weight="normal" font-style="normal" fill="#2b2b2b">Multi-hit</text>
<text x="410.40" y="478.40" font-size="9" text-anchor="start" font-weight="bold" font-style="normal" fill="#1a1a1a" letter-spacing="0.28">EBV/HIV status</text>
<rect x="410.40" y="485.00" width="9.10" height="8.70" fill="#f07068"/>
<text x="422.60" y="492.80" font-size="9" text-anchor="start" font-weight="normal" font-style="normal" fill="#2b2b2b">EBV–/HIV–</text>
<rect x="410.40" y="496.70" width="9.10" height="8.70" fill="#3db34a"/>
<text x="422.60" y="504.50" font-size="9" text-anchor="start" font-weight="normal" font-style="normal" fill="#2b2b2b">EBV+/HIV–</text>
<rect x="410.40" y="508.40" width="9.10" height="8.70" fill="#5a85cc"/>
<text x="422.60" y="516.20" font-size="9" text-anchor="start" font-weight="normal" font-style="normal" fill="#2b2b2b">EBV+/HIV+</text>
<text x="410.40" y="538.10" font-size="9" text-anchor="start" font-weight="bold" font-style="normal" fill="#1a1a1a" letter-spacing="0">Age Group</text>
<rect x="410.40" y="545.30" width="9.10" height="8.70" fill="#a8c0de"/>
<text x="422.60" y="553.10" font-size="9" text-anchor="start" font-weight="normal" font-style="normal" fill="#2b2b2b">Pediatric</text>
<rect x="410.40" y="557.00" width="9.10" height="8.70" fill="#3a72b0"/>
<text x="422.60" y="564.80" font-size="9" text-anchor="start" font-weight="normal" font-style="normal" fill="#2b2b2b">Adult</text>
<text x="410.40" y="585.90" font-size="9" text-anchor="start" font-weight="bold" font-style="normal" fill="#1a1a1a" letter-spacing="0">Histologic subtype</text>
<rect x="410.40" y="592.20" width="9.10" height="8.70" fill="#5fc99a"/>
<text x="422.60" y="600.00" font-size="9" text-anchor="start" font-weight="normal" font-style="normal" fill="#2b2b2b">Lymphocyte Depleted</text>
<rect x="410.40" y="603.90" width="9.10" height="8.70" fill="#f2e27a"/>
<text x="422.60" y="611.70" font-size="9" text-anchor="start" font-weight="normal" font-style="normal" fill="#2b2b2b">Lymphocyte Rich</text>
<rect x="410.40" y="615.60" width="9.10" height="8.70" fill="#cc4430"/>
<text x="422.60" y="623.40" font-size="9" text-anchor="start" font-weight="normal" font-style="normal" fill="#2b2b2b">Mixed Cellularity</text>
<rect x="410.40" y="627.30" width="9.10" height="8.70" fill="#c68fd0"/>
<text x="422.60" y="635.10" font-size="9" text-anchor="start" font-weight="normal" font-style="normal" fill="#2b2b2b">Nodular Sclerosis</text>
<rect x="410.40" y="639.00" width="9.10" height="8.70" fill="#a9a9a9"/>
<text x="422.60" y="646.80" font-size="9" text-anchor="start" font-weight="normal" font-style="normal" fill="#2b2b2b">N/A</text>
</svg><div id="bd"></div></div></body></html>
